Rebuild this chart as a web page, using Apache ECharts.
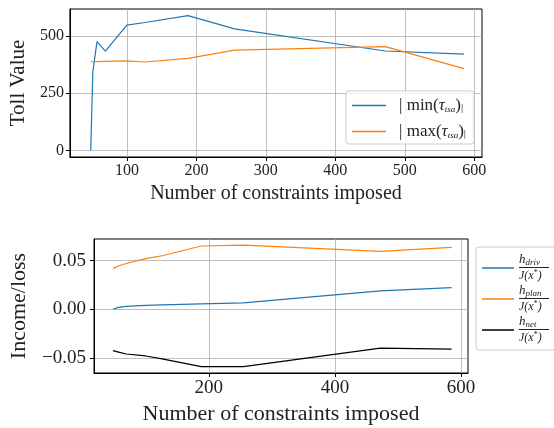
<!DOCTYPE html>
<html>
<head>
<meta charset="utf-8">
<script src="https://cdn.jsdelivr.net/npm/echarts@6/dist/echarts.min.js"></script>
<style>
html, body { margin: 0; padding: 0; background: #fff; }
#main { width: 554px; height: 428px; }
</style>
</head>
<body>
<div id="main"></div>
<script>
// number of constraints imposed (x of every point)
const nConstraints = [48, 51, 57, 69, 100, 126, 188, 255, 472, 585];
// top panel: toll values
const tollMin = [0, 345, 476, 435, 548, 560, 590, 532, 435, 421];
const tollMax = [388, 388, 389, 390, 392, 387, 403, 439, 454, 358];
// bottom panel: income / loss
const incDriv = [0.0, 0.001, 0.002, 0.003, 0.004, 0.0045, 0.0055, 0.0065, 0.0188, 0.0222];
const incPlan = [0.042, 0.044, 0.0445, 0.047, 0.052, 0.055, 0.065, 0.066, 0.0595, 0.0635];
const incNet = [-0.0425, -0.0418, -0.044, -0.046, -0.048, -0.051, -0.059, -0.059, -0.040, -0.041];
// tick labels
const topXTicks = [100, 200, 300, 400, 500, 600];
const topYTicks = [0, 250, 500];
const botXTicks = [200, 400, 600];
const botYTicks = [-0.05, 0, 0.05];

const FONT = 'Liberation Serif';
const TXT = '#222';

function pairs(ys) {
  return nConstraints.map((x, i) => [x, ys[i]]);
}

const gridLine = { show: true, lineStyle: { color: '#b0b0b0', width: 0.8 } };

function xAxis(gridIndex, ticks, size, nameSize, gap) {
  return {
    type: 'value', gridIndex: gridIndex, min: 18, max: 611,
    name: 'Number of constraints imposed', nameLocation: 'middle', nameGap: gap,
    nameTextStyle: { fontFamily: FONT, fontSize: nameSize, color: TXT },
    axisLine: { show: true, onZero: false, lineStyle: { color: '#000', width: 1 } },
    axisTick: { show: true, length: 4, lineStyle: { color: '#000' }, customValues: ticks },
    axisLabel: { fontFamily: FONT, fontSize: size, color: TXT, margin: 6, customValues: ticks },
    splitLine: gridLine
  };
}

const myChart = echarts.init(document.getElementById('main'), null, { renderer: 'canvas' });

const option = {
  animation: false,
  backgroundColor: '#fff',
  grid: [
    { left: 67, right: 72, top: 9, height: 148, show: true, borderColor: '#000', borderWidth: 1 },
    { left: 91, right: 86, top: 239, height: 134, show: true, borderColor: '#000', borderWidth: 1 }
  ],
  xAxis: [
    xAxis(0, topXTicks, 16, 20, 27),
    xAxis(1, botXTicks, 19, 22, 30)
  ],
  yAxis: [
    {
      type: 'value', gridIndex: 0, min: -29, max: 619,
      name: 'Toll Value', nameLocation: 'middle', nameGap: 38,
      nameTextStyle: { fontFamily: FONT, fontSize: 21, color: TXT },
      axisLine: { show: true, lineStyle: { color: '#000' } },
      axisTick: { show: true, length: 4, lineStyle: { color: '#000' }, customValues: topYTicks },
      axisLabel: { fontFamily: FONT, fontSize: 16, color: TXT, margin: 6, customValues: topYTicks },
      splitLine: gridLine
    },
    {
      type: 'value', gridIndex: 1, min: -0.0655, max: 0.0722,
      name: 'Income/loss', nameLocation: 'middle', nameGap: 64,
      nameTextStyle: { fontFamily: FONT, fontSize: 22, color: TXT },
      axisLine: { show: true, lineStyle: { color: '#000' } },
      axisTick: { show: true, length: 4, lineStyle: { color: '#000' }, customValues: botYTicks },
      axisLabel: {
        fontFamily: FONT, fontSize: 19, color: TXT, margin: 8, customValues: botYTicks,
        formatter: v => (v < 0 ? '\u2212' : '') + Math.abs(v).toFixed(2)
      },
      splitLine: gridLine
    }
  ],
  legend: [
    {
      data: ['min', 'max'],
      orient: 'vertical', left: 346, top: 91,
      icon: 'rect', itemWidth: 34, itemHeight: 1.5, itemGap: 9,
      padding: [6, 8, 4, 6],
      backgroundColor: 'rgba(255,255,255,0.8)', borderColor: '#ccc', borderWidth: 1, borderRadius: 3,
      formatter: name => '{pre|| ' + name + '(}{t|\u03c4}{s|tsa}{a|)}{b||}',
      textStyle: {
        fontFamily: FONT, color: TXT,
        rich: {
          pre: { fontFamily: FONT, fontSize: 17, color: TXT, padding: [0, 0, 0, 8] },
          a: { fontFamily: FONT, fontSize: 17, color: TXT },
          t: { fontFamily: FONT, fontSize: 17, fontStyle: 'italic', color: TXT },
          s: { fontFamily: FONT, fontSize: 9, fontStyle: 'italic', color: TXT, padding: [8, 0, 0, 0] },
          b: { fontFamily: FONT, fontSize: 11, color: TXT, padding: [6, 0, 0, 0] }
        }
      }
    },
    {
      data: ['driv', 'plan', 'net'],
      orient: 'vertical', left: 476, top: 247,
      icon: 'rect', itemWidth: 32, itemHeight: 1.5, itemGap: 2,
      padding: [6, 8, 6, 6],
      backgroundColor: 'rgba(255,255,255,0.8)', borderColor: '#ccc', borderWidth: 1, borderRadius: 3,
      formatter: name => '{h|h}{s|' + name + '}\n{bar| }\n{j|J(x}{p|*}{j|)}',
      textStyle: {
        fontFamily: FONT, color: TXT,
        rich: {
          h: { fontFamily: FONT, fontSize: 13, fontStyle: 'italic', color: TXT, lineHeight: 12 },
          s: { fontFamily: FONT, fontSize: 9, fontStyle: 'italic', color: TXT, padding: [5, 0, 0, 0], lineHeight: 12 },
          bar: { width: 30, height: 1, lineHeight: 3, backgroundColor: '#222', fontSize: 1 },
          j: { fontFamily: FONT, fontSize: 12, fontStyle: 'italic', color: TXT, lineHeight: 13 },
          p: { fontFamily: FONT, fontSize: 8, color: TXT, padding: [0, 0, 5, 0], lineHeight: 13 }
        }
      }
    }
  ],
  series: [
    { name: 'min', type: 'line', xAxisIndex: 0, yAxisIndex: 0, data: pairs(tollMin),
      symbol: 'none', lineStyle: { color: '#1f77b4', width: 1.2 }, itemStyle: { color: '#1f77b4' } },
    { name: 'max', type: 'line', xAxisIndex: 0, yAxisIndex: 0, data: pairs(tollMax),
      symbol: 'none', lineStyle: { color: '#ff7f0e', width: 1.2 }, itemStyle: { color: '#ff7f0e' } },
    { name: 'driv', type: 'line', xAxisIndex: 1, yAxisIndex: 1, data: pairs(incDriv),
      symbol: 'none', lineStyle: { color: '#1f77b4', width: 1.2 }, itemStyle: { color: '#1f77b4' } },
    { name: 'plan', type: 'line', xAxisIndex: 1, yAxisIndex: 1, data: pairs(incPlan),
      symbol: 'none', lineStyle: { color: '#ff7f0e', width: 1.2 }, itemStyle: { color: '#ff7f0e' } },
    { name: 'net', type: 'line', xAxisIndex: 1, yAxisIndex: 1, data: pairs(incNet),
      symbol: 'none', lineStyle: { color: '#000', width: 1.2 }, itemStyle: { color: '#000' } }
  ]
};

myChart.setOption(option);
</script>
</body>
</html>
